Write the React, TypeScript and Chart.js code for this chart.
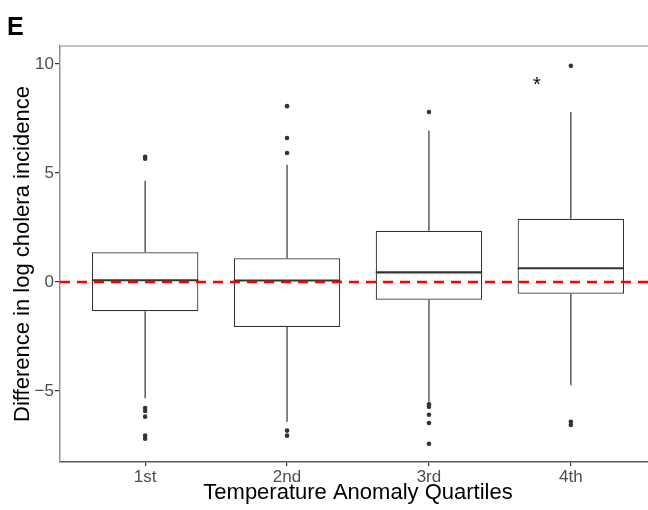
import { useEffect, useRef } from "react";
import { Chart, registerables } from "chart.js";

Chart.register(...registerables);

// Temperature anomaly quartiles and the five-number summary of each box
const quartiles = ["1st", "2nd", "3rd", "4th"];
const lowerWhisker = [-5.33, -6.41, -5.49, -4.74];
const lowerHinge = [-1.34, -2.06, -0.81, -0.54];
const medians = [0.08, 0.07, 0.44, 0.63];
const upperHinge = [1.36, 1.09, 2.35, 2.9];
const upperWhisker = [4.65, 5.38, 6.94, 7.8];

// Points beyond the whiskers, one list per quartile
const outliers1st = [5.75, 5.66, -5.78, -5.92, -6.18, -7.05, -7.19];
const outliers2nd = [8.07, 6.61, 5.92, -6.82, -7.05];
const outliers3rd = [7.8, -5.61, -5.73, -6.09, -6.47, -7.42];
const outliers4th = [9.92, -6.41, -6.56];

const yTicks = [-5, 0, 5, 10];
const yMin = -8.26;
const yMax = 10.83;
const referenceLevel = 0;

// Significance marker next to the 4th quartile
const starX = 3.76;
const starY = 9.0;

const FONT = '"Liberation Sans", Arial, Helvetica, sans-serif';

export default function App() {
  const canvasRef = useRef<HTMLCanvasElement | null>(null);

  useEffect(() => {
    const canvas = canvasRef.current;
    if (!canvas) return;

    const outlierPoints = [outliers1st, outliers2nd, outliers3rd, outliers4th].flatMap(
      (vals, i) => vals.map((v) => ({ x: i + 1, y: v }))
    );

    const boxExtras = {
      id: "boxExtras",
      afterDatasetDraw(chart: any, args: any) {
        if (args.index !== 0) return;
        const { ctx } = chart;
        const xs = chart.scales.x;
        const ys = chart.scales.y;
        ctx.save();
        ctx.strokeStyle = "#333333";
        ctx.lineCap = "butt";
        quartiles.forEach((_, i) => {
          const cx = xs.getPixelForValue(i + 1);
          // whiskers
          ctx.lineWidth = 1.2;
          ctx.beginPath();
          ctx.moveTo(cx, ys.getPixelForValue(upperHinge[i]));
          ctx.lineTo(cx, ys.getPixelForValue(upperWhisker[i]));
          ctx.moveTo(cx, ys.getPixelForValue(lowerHinge[i]));
          ctx.lineTo(cx, ys.getPixelForValue(lowerWhisker[i]));
          ctx.stroke();
          // median
          const x0 = xs.getPixelForValue(i + 1 - 0.375);
          const x1 = xs.getPixelForValue(i + 1 + 0.375);
          const my = ys.getPixelForValue(medians[i]);
          ctx.lineWidth = 2.2;
          ctx.beginPath();
          ctx.moveTo(x0, my);
          ctx.lineTo(x1, my);
          ctx.stroke();
        });
        ctx.restore();
      },
      afterDraw(chart: any) {
        const { ctx, chartArea } = chart;
        const xs = chart.scales.x;
        const ys = chart.scales.y;
        ctx.save();
        // panel top border
        ctx.strokeStyle = "#8a8a8a";
        ctx.lineWidth = 1.2;
        ctx.beginPath();
        ctx.moveTo(chartArea.left, chartArea.top);
        ctx.lineTo(chartArea.right, chartArea.top);
        ctx.stroke();
        // significance star
        ctx.fillStyle = "#000000";
        ctx.font = `20px ${FONT}`;
        ctx.textAlign = "center";
        ctx.textBaseline = "middle";
        ctx.fillText("*", xs.getPixelForValue(starX), ys.getPixelForValue(starY));
        // panel letter
        ctx.font = `bold 25px ${FONT}`;
        ctx.textAlign = "left";
        ctx.textBaseline = "alphabetic";
        ctx.fillText("E", 7, 35);
        ctx.restore();
      },
    };

    const chart = new Chart(canvas, {
      type: "bar",
      data: {
        datasets: [
          {
            type: "bar",
            data: quartiles.map((_, i) => ({ x: i + 1, y: [lowerHinge[i], upperHinge[i]] })) as any,
            backgroundColor: "#ffffff",
            borderColor: "#333333",
            borderWidth: 1.2,
            borderSkipped: false,
            categoryPercentage: 1,
            barPercentage: 0.75,
            order: 3,
          },
          {
            type: "scatter",
            data: outlierPoints,
            backgroundColor: "#333333",
            borderColor: "#333333",
            pointRadius: 2.3,
            borderWidth: 0,
            order: 2,
          } as any,
          {
            type: "line",
            data: [
              { x: 0.4, y: referenceLevel },
              { x: 4.6, y: referenceLevel },
            ],
            borderColor: "#ff0000",
            borderWidth: 2.6,
            borderDash: [10, 7],
            pointRadius: 0,
            fill: false,
            order: 1,
          } as any,
        ],
      },
      options: {
        responsive: false,
        animation: false,
        layout: { padding: { left: 0, top: 46, right: 3.6, bottom: 0 } },
        plugins: {
          legend: { display: false },
          tooltip: { enabled: false },
          title: { display: false },
        },
        scales: {
          x: {
            type: "linear",
            min: 0.4,
            max: 4.6,
            offset: false,
            afterBuildTicks: (scale: any) => {
              scale.ticks = quartiles.map((_, i) => ({ value: i + 1 }));
            },
            afterFit: (scale: any) => {
              scale.height = 48;
            },
            ticks: {
              callback: (v: any) => quartiles[Math.round(Number(v)) - 1] ?? "",
              color: "#4d4d4d",
              font: { family: FONT, size: 17 },
              padding: 1,
              maxRotation: 0,
              autoSkip: false,
            },
            grid: {
              offset: false,
              drawOnChartArea: false,
              drawTicks: true,
              tickLength: 4,
              color: "#333333",
              lineWidth: 1.2,
            },
            border: { display: true, color: "#5a5a5a", width: 1.4 },
            title: {
              display: true,
              text: "Temperature Anomaly Quartiles",
              color: "#000000",
              font: { family: FONT, size: 22 },
              padding: { top: 0, bottom: 4 },
            },
          },
          y: {
            type: "linear",
            min: yMin,
            max: yMax,
            afterBuildTicks: (scale: any) => {
              scale.ticks = yTicks.map((v) => ({ value: v }));
            },
            afterFit: (scale: any) => {
              scale.width = 60;
            },
            ticks: {
              callback: (v: any) => String(v).replace("-", "\u2212"),
              color: "#4d4d4d",
              font: { family: FONT, size: 17 },
              padding: 1,
            },
            grid: {
              drawOnChartArea: false,
              drawTicks: true,
              tickLength: 5,
              color: "#333333",
              lineWidth: 1.2,
            },
            border: { display: true, color: "#8a8a8a", width: 1.4 },
            title: {
              display: true,
              text: "Difference in log cholera incidence",
              color: "#000000",
              font: { family: FONT, size: 22 },
              padding: { top: 10, bottom: 0 },
            },
          },
        },
      },
      plugins: [boxExtras],
    });

    return () => chart.destroy();
  }, []);

  return (
    <div
      style={{
        position: "absolute",
        left: 0,
        top: 0,
        width: 648,
        height: 510,
        overflow: "hidden",
        background: "#ffffff",
      }}
    >
      <canvas ref={canvasRef} width={660} height={510} style={{ display: "block" }} />
    </div>
  );
}
